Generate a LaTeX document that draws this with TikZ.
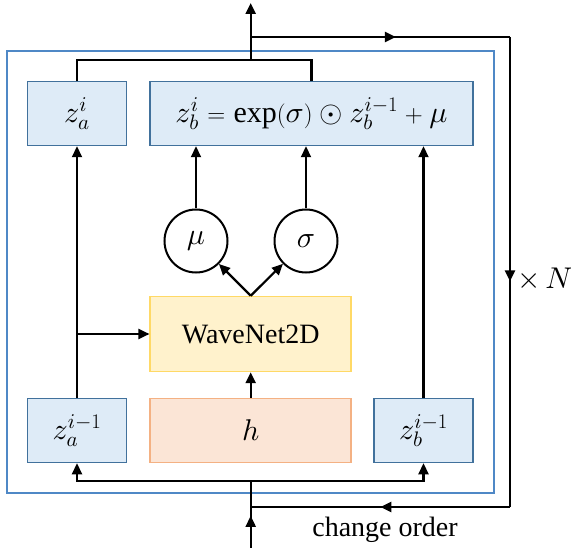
\documentclass[tikz,border=0pt]{standalone}
\usepackage{fontspec}
\setmainfont{Liberation Serif}
\DeclareFontFamily{OML}{cmm}{\skewchar\font'177}
\DeclareFontShape{OML}{cmm}{m}{it}{<->cmmi10}{}
\DeclareFontFamily{OMS}{cmsy}{\skewchar\font'60}
\DeclareFontShape{OMS}{cmsy}{m}{n}{<->cmsy10}{}
\usetikzlibrary{arrows.meta,decorations.markings}
\definecolor{boxfill}{HTML}{DEEBF7}
\definecolor{boxline}{HTML}{41719C}
\definecolor{frameline}{HTML}{4F88C6}
\definecolor{wnfill}{HTML}{FFF2CC}
\definecolor{wnline}{HTML}{FFD966}
\definecolor{hfill}{HTML}{FBE5D6}
\definecolor{hline}{HTML}{F4B183}
\tikzset{
  mathtext/.style={font=\fontsize{30}{34}\selectfont},
  zbox/.style={draw=boxline,fill=boxfill,line width=1.5pt,minimum width=99pt,minimum height=64pt,inner sep=0pt,mathtext},
  param/.style={draw,circle,line width=2pt,minimum size=63pt,inner sep=0pt,mathtext},
  midarrow/.style={postaction={decorate},decoration={markings,mark=at position #1 with {\arrow{Triangle[length=11pt,width=10pt]}}}},
}
\begin{document}
\begin{tikzpicture}[x=1pt,y=-1pt,line width=2.2pt,>={Triangle[length=11pt,width=10pt]},font=\fontsize{28}{32}\selectfont]
  \useasboundingbox (0,0) rectangle (571,548);
  \draw[frameline,line width=1.6pt] (7,51) rectangle (494,493);
  % boxes
  \node[zbox] (za) at (77,113.5) {$z_a^i$};
  \node[zbox,minimum width=323pt] (zb) at (311.5,113.5) {$z_b^i = \exp(\sigma) \odot z_b^{i-1} + \mu$};
  \node[param] (mu) at (196,241) {$\mu$};
  \node[param] (sigma) at (306,241) {$\sigma$};
  \node[draw=wnline,fill=wnfill,line width=1.5pt,minimum width=201pt,minimum height=75pt] (wn) at (250.7,334) {WaveNet2D};
  \node[zbox] (za1) at (77,430.5) {$z_a^{i-1}$};
  \node[draw=hline,fill=hfill,line width=1.5pt,minimum width=201pt,minimum height=64pt,mathtext] (h) at (250.7,430.5) {$h$};
  \node[zbox] (zb1) at (423.5,430.5) {$z_b^{i-1}$};
  \node[mathtext] (times) at (545,280) {$\times\,N$};
  \node (order) at (385,530) {change order};
  \coordinate (out) at (250.7,3);
  \coordinate (in) at (250.7,548);
  \coordinate (split) at (250.7,481);
  \coordinate (merge) at (250.7,60);
  \coordinate (loop) at (250.7,37);
  \coordinate (back) at (250.7,507);
  % output and loop
  \draw (za.north) |- (merge) -| (zb.north);
  \draw[->] (merge) -- (out);
  \draw[midarrow=0.56] (loop) -- (510,37);
  \draw[midarrow=0.52] (510,37) -- (510,507);
  \draw[midarrow=0.5] (510,507) -- (back);
  % input
  \draw[midarrow=0.48] (in) -- (split);
  \draw[->] (split) -| (za1.south);
  \draw[->] (split) -| (zb1.south);
  % coupling
  \draw[->] (za1) -- (za);
  \draw[->] (za1.north |- wn.west) -- (wn.west);
  \draw[->] (zb1) -- (zb1 |- zb.south);
  \draw[->] (h) -- (wn);
  \draw[->] (wn.north) -- (mu);
  \draw[->] (wn.north) -- (sigma);
  \draw[->] (mu) -- (mu |- zb.south);
  \draw[->] (sigma) -- (sigma |- zb.south);
\end{tikzpicture}
\end{document}
